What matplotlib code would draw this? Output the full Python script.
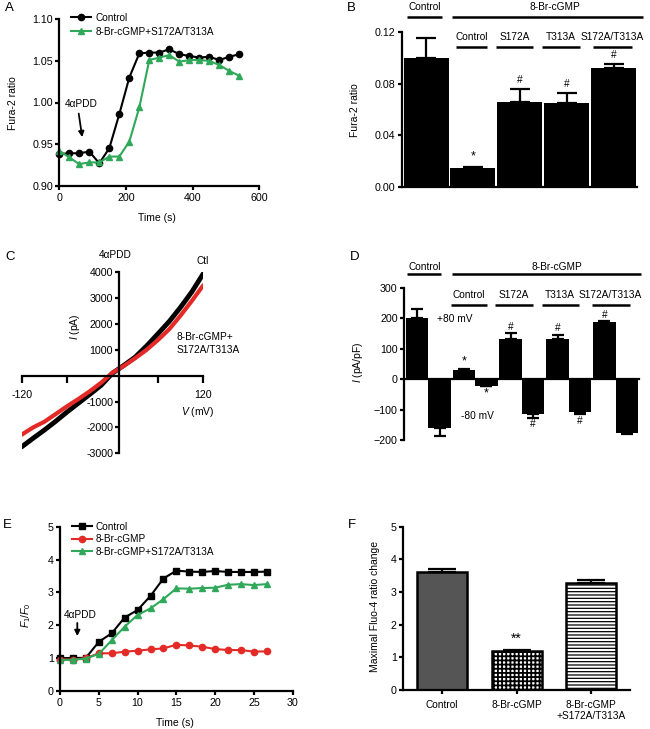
import matplotlib
matplotlib.use("Agg")
import matplotlib.pyplot as plt
import numpy as np

plt.rcParams['font.family'] = ['Liberation Sans', 'DejaVu Sans']
plt.rcParams['font.size'] = 7.5
plt.rcParams['mathtext.fontset'] = 'custom'
plt.rcParams['mathtext.rm'] = 'Liberation Sans'
plt.rcParams['mathtext.it'] = 'Liberation Sans:italic'
plt.rcParams['axes.linewidth'] = 1.6
plt.rcParams['xtick.major.width'] = 1.6
plt.rcParams['ytick.major.width'] = 1.6
plt.rcParams['xtick.major.size'] = 3
plt.rcParams['ytick.major.size'] = 3
plt.rcParams['xtick.major.pad'] = 2
plt.rcParams['ytick.major.pad'] = 1.5
plt.rcParams['xtick.labelsize'] = 7.7
plt.rcParams['ytick.labelsize'] = 7.7
plt.rcParams['hatch.linewidth'] = 0.9

GREEN = '#2fa85a'
RED = '#e42a26'

# ---- data ----
# A: Fura-2 time course
a_time = [0, 30, 60, 90, 120, 150, 180, 210, 240, 270, 300, 330, 360, 390, 420, 450, 480, 510, 540]
a_control = [0.938, 0.939, 0.939, 0.941, 0.927, 0.945, 0.986, 1.030, 1.059, 1.060, 1.060, 1.064,
             1.058, 1.056, 1.054, 1.055, 1.051, 1.055, 1.058]
a_mutant = [0.942, 0.934, 0.926, 0.928, 0.928, 0.935, 0.935, 0.953, 0.994, 1.051, 1.054, 1.057,
            1.049, 1.051, 1.051, 1.050, 1.045, 1.038, 1.032]

# B: Fura-2 ratio bars
b_values = [0.100, 0.0143, 0.0656, 0.0648, 0.0925]
b_errors = [0.0153, 0.0012, 0.0101, 0.0078, 0.0026]
b_marks = ['', '*', '#', '#', '#']

# C: I-V curves
c_voltage = [-120, -105, -90, -75, -60, -45, -30, -15, 0, 15, 30, 45, 60, 75, 90, 105, 120]
c_control = [-2750, -2420, -2100, -1760, -1400, -1060, -720, -370, 100, 400, 720, 1150,
             1620, 2100, 2650, 3250, 3950]
c_mutant = [-2280, -2000, -1780, -1480, -1180, -900, -600, -270, 120, 380, 680, 1000,
            1380, 1800, 2330, 2900, 3500]

# D: current density at +80 / -80 mV
d_pos = [202, 30, 131, 131, 186]
d_pos_err = [28, 2, 19, 15, 4]
d_neg = [-162, -22, -115, -107, -178]
d_neg_err = [25, 2, 12, 9, 2]
d_pos_marks = ['', '*', '#', '#', '#']
d_neg_marks = ['', '*', '#', '#', '']

# E: Fluo-4 time course
e_time = [0, 1.67, 3.33, 5, 6.67, 8.33, 10, 11.67, 13.33, 15, 16.67, 18.33, 20, 21.67, 23.33, 25, 26.67]
e_control = [0.99, 1.0, 1.0, 1.49, 1.75, 2.23, 2.46, 2.89, 3.42, 3.66, 3.63, 3.62, 3.65, 3.62, 3.62, 3.62, 3.63]
e_cgmp = [0.95, 0.95, 0.99, 1.14, 1.14, 1.19, 1.22, 1.26, 1.29, 1.40, 1.38, 1.34, 1.27, 1.24, 1.24, 1.19, 1.20]
e_mutant = [0.94, 0.94, 0.98, 1.12, 1.54, 1.95, 2.31, 2.51, 2.79, 3.12, 3.11, 3.13, 3.14, 3.23, 3.25, 3.22, 3.25]

# F: maximal Fluo-4 ratio change
f_labels = ['Control', '8-Br-cGMP', '8-Br-cGMP\n+S172A/T313A']
f_values = [3.60, 1.18, 3.28]
f_errors = [0.12, 0.04, 0.10]

group_names = ['Control', 'S172A', 'T313A', 'S172A/T313A']

W, H = 650, 729
fig = plt.figure(figsize=(W / 100, H / 100), dpi=100)


def rect(l, t, r, b):
    return [l / W, 1 - b / H, (r - l) / W, (b - t) / H]


def prism(ax):
    ax.spines['top'].set_visible(False)
    ax.spines['right'].set_visible(False)


def headers(ax, ytop, ylinetop, ysub, ylinesub, ctl_span, cg_span, ctl_x, cg_x, sub_spans):
    kw = dict(color='black', lw=1.8, clip_on=False, solid_capstyle='butt')
    ax.text(ctl_x, ytop, 'Control', ha='center', va='center', fontsize=7.3)
    ax.plot(ctl_span, [ylinetop, ylinetop], **kw)
    ax.text(cg_x, ytop, '8-Br-cGMP', ha='center', va='center', fontsize=7.3)
    ax.plot(cg_span, [ylinetop, ylinetop], **kw)
    for name, (x0, x1) in zip(group_names, sub_spans):
        ax.text((x0 + x1) / 2, ysub, name, ha='center', va='center', fontsize=7.3)
        ax.plot([x0, x1], [ylinesub, ylinesub], **kw)


# ---- A ----
ax = fig.add_axes(rect(59.3, 19.3, 259.3, 185.7))
prism(ax)
ax.plot(a_time, a_control, '-o', color='black', ms=4.5, lw=1.5, label='Control', clip_on=False)
ax.plot(a_time, a_mutant, '-^', color=GREEN, ms=5, lw=1.5, label='8-Br-cGMP+S172A/T313A', clip_on=False)
ax.set_xlim(0, 600)
ax.set_ylim(0.90, 1.10)
ax.set_xticks([0, 200, 400, 600])
ax.set_yticks([0.90, 0.95, 1.00, 1.05, 1.10])
ax.set_yticklabels(['0.90', '0.95', '1.00', '1.05', '1.10'])
ax.set_xlabel('Time (s)')
ax.set_ylabel('Fura-2 ratio')
ax.xaxis.set_label_coords(0.487, -0.164)
ax.yaxis.set_label_coords(-0.206, 0.497)
ax.text(67, 0.998, '4αPDD', ha='center', va='center', fontsize=7.3)
ax.annotate('', xy=(70, 0.955), xytext=(57, 0.99),
            arrowprops=dict(arrowstyle='-|>', color='black', lw=1.3, mutation_scale=8))
ax.legend(loc='upper left', bbox_to_anchor=(0.06, 1.04), frameon=False, fontsize=7.2,
          handlelength=2.0, handletextpad=0.4, labelspacing=0.42, borderaxespad=0, borderpad=0)
fig.text(5 / W, 1 - 8 / H, 'A', fontsize=9.5, va='center')

# ---- B ----
ax = fig.add_axes(rect(401.7, 32.3, 637, 186.7))
prism(ax)
bx = np.arange(len(b_values))
ax.bar(bx, b_values, width=0.96, color='black')
ax.errorbar(bx, b_values, yerr=[np.zeros(len(b_values)), b_errors], fmt='none', ecolor='black',
            elinewidth=1.6, capsize=7.5, capthick=1.6)
for x, v, e, m in zip(bx, b_values, b_errors, b_marks):
    if m:
        ax.text(x, v + e + 0.003, m, ha='center', va='bottom', fontsize=9 if m == '*' else 7.3)
ax.set_xlim(-0.52, 4.5)
ax.set_ylim(0, 0.12)
ax.set_xticks([])
ax.set_yticks([0, 0.04, 0.08, 0.12])
ax.set_yticklabels(['0.00', '0.04', '0.08', '0.12'])
ax.set_ylabel('Fura-2 ratio')
ax.yaxis.set_label_coords(-0.177, 0.497)
headers(ax, 0.1394, 0.1319, 0.1161, 0.1083, [-0.41, 0.34], [0.55, 4.63], -0.03, 2.75,
        [(0.64, 1.30), (1.49, 2.28), (2.47, 3.28), (3.56, 4.39)])
fig.text(347 / W, 1 - 8 / H, 'B', fontsize=9.5, va='center')

# ---- C ----
ax = fig.add_axes(rect(21.7, 272.3, 203.3, 453.3))
ax.spines['top'].set_visible(False)
ax.spines['right'].set_visible(False)
ax.spines['left'].set_position(('data', 9))
ax.spines['bottom'].set_position(('data', 0))
ax.plot(c_voltage, c_control, color='black', lw=3.5, solid_capstyle='round')
ax.plot(c_voltage, c_mutant, color=RED, lw=3.0, solid_capstyle='round')
ax.set_xlim(-120, 120)
ax.set_ylim(-3000, 4000)
ax.set_xticks([-120, -60, 60, 120])
ax.set_xticklabels(['-120', '', '', '120'])
ax.tick_params(axis='x', length=5, pad=5)
ax.set_yticks([-3000, -2000, -1000, 1000, 2000, 3000, 4000])
ax.set_yticklabels(['-3000', '-2000', '-1000', '1000', '2000', '3000', '4000'])
ax.text(3, 4670, '4αPDD', ha='center', va='center', fontsize=7.3)
ax.text(119, 4430, 'Ctl', ha='center', va='center', fontsize=7.3)
ax.text(85, 1250, '8-Br-cGMP+\nS172A/T313A', ha='left', va='center', fontsize=7.3, linespacing=1.3)
ax.text(113, -1400, r'$V$ (mV)', ha='center', va='center', fontsize=7.5)
ax.text(-49.6, 1880, r'$I$ (pA)', ha='center', va='center', fontsize=7.5, rotation=90)
fig.text(5 / W, 1 - 257 / H, 'C', fontsize=9.5, va='center')

# ---- D ----
ax = fig.add_axes(rect(404, 287.7, 639, 440))
ax.spines['top'].set_visible(False)
ax.spines['right'].set_visible(False)
ax.spines['bottom'].set_position(('data', 0))
dx = np.arange(len(d_pos))
ax.bar(dx - 0.24, d_pos, width=0.48, color='black')
ax.bar(dx + 0.24, d_neg, width=0.48, color='black')
ax.errorbar(dx - 0.24, d_pos, yerr=[np.zeros(len(d_pos)), d_pos_err], fmt='none', ecolor='black',
            elinewidth=1.6, capsize=4.5, capthick=1.6)
ax.errorbar(dx + 0.24, d_neg, yerr=[d_neg_err, np.zeros(len(d_neg))], fmt='none', ecolor='black',
            elinewidth=1.6, capsize=4.5, capthick=1.6)
for x, v, e, m in zip(dx, d_pos, d_pos_err, d_pos_marks):
    if m:
        ax.text(x - 0.24, v + e + 5, m, ha='center', va='bottom', fontsize=9 if m == '*' else 7.3)
for x, v, e, m in zip(dx, d_neg, d_neg_err, d_neg_marks):
    if m:
        ax.text(x + 0.24, v - e - 5, m, ha='center', va='top', fontsize=9 if m == '*' else 7.3)
ax.set_xlim(-0.52, 4.5)
ax.set_ylim(-200, 300)
ax.set_xticks([])
ax.set_yticks([-200, -100, 0, 100, 200, 300])
ax.set_ylabel(r'$I$ (pA/pF)')
ax.yaxis.set_label_coords(-0.166, 0.514)
ax.text(0.57, 197, '+80 mV', ha='center', va='center', fontsize=7.3)
ax.text(1.04, -120, '-80 mV', ha='center', va='center', fontsize=7.3)
headers(ax, 367, 344, 276, 243, [-0.46, 0.27], [0.50, 4.55], -0.07, 2.75,
        [(0.48, 1.25), (1.42, 2.23), (2.42, 3.21), (3.49, 4.30)])
fig.text(350 / W, 1 - 257 / H, 'D', fontsize=9.5, va='center')

# ---- E ----
ax = fig.add_axes(rect(60, 526.7, 292.7, 690.7))
prism(ax)
ax.plot(e_time, e_control, '-s', color='black', ms=4.3, lw=1.5, label='Control', clip_on=False)
ax.plot(e_time, e_cgmp, '-o', color=RED, ms=4.5, lw=1.5, label='8-Br-cGMP', clip_on=False)
ax.plot(e_time, e_mutant, '-^', color=GREEN, ms=5, lw=1.5, label='8-Br-cGMP+S172A/T313A', clip_on=False)
ax.set_xlim(0, 30)
ax.set_ylim(0, 5)
ax.set_xticks([0, 5, 10, 15, 20, 25, 30])
ax.set_yticks([0, 1, 2, 3, 4, 5])
ax.set_xlabel('Time (s)')
ax.set_ylabel(r'$F_1/F_0$')
ax.xaxis.set_label_coords(0.494, -0.166)
ax.yaxis.set_label_coords(-0.116, 0.46)
ax.text(2.58, 2.31, '4αPDD', ha='center', va='center', fontsize=7.3)
ax.annotate('', xy=(2.23, 1.58), xytext=(2.23, 2.15),
            arrowprops=dict(arrowstyle='-|>', color='black', lw=1.3, mutation_scale=8))
ax.legend(loc='upper left', bbox_to_anchor=(0.05, 1.03), frameon=False, fontsize=7.2,
          handlelength=2.0, handletextpad=0.4, labelspacing=0.25, borderaxespad=0, borderpad=0)
fig.text(3 / W, 1 - 525 / H, 'E', fontsize=9.5, va='center')

# ---- F ----
ax = fig.add_axes(rect(403, 526.7, 630, 690))
prism(ax)
fx = np.arange(len(f_values))
fills = ['#555555', 'white', 'white']
hatches = ['', '++++', '-----']
hatch_lw = [0.9, 1.3, 0.9]
bars = ax.bar(fx, f_values, width=0.67, color=fills, edgecolor='black', linewidth=1.8)
for b, h, hl in zip(bars, hatches, hatch_lw):
    b.set_hatch(h)
    if hasattr(b, 'set_hatch_linewidth'):
        b.set_hatch_linewidth(hl)
ax.errorbar(fx, f_values, yerr=[np.zeros(len(f_values)), f_errors], fmt='none', ecolor='black',
            elinewidth=1.6, capsize=10, capthick=1.6)
ax.text(fx[1], f_values[1] + f_errors[1] + 0.12, '**', ha='center', va='bottom', fontsize=10)
ax.set_xlim(-0.523, 2.52)
ax.set_ylim(0, 5)
ax.set_xticks(fx)
ax.set_xticklabels(f_labels, va='top', fontsize=7.3)
ax.tick_params(axis='x', pad=4)
ax.set_yticks([0, 1, 2, 3, 4, 5])
ax.set_ylabel('Maximal Fluo-4 ratio change')
ax.yaxis.set_label_coords(-0.101, 0.51)
fig.text(348 / W, 1 - 525 / H, 'F', fontsize=9.5, va='center')

fig.savefig('out.png', dpi=100)
